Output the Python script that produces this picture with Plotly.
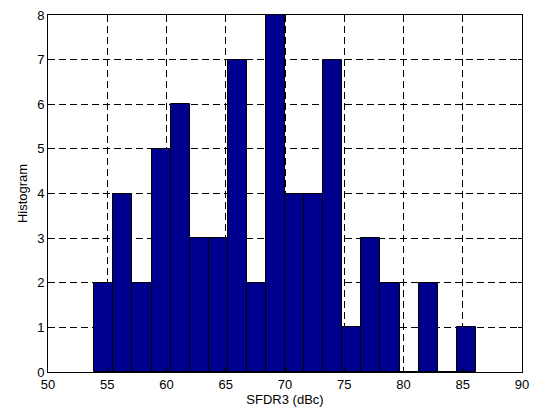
import plotly.graph_objects as go

# Histogram bins (centres, dBc) and counts
bin_centers = [54.71, 56.32, 57.93, 59.54, 61.15, 62.76, 64.37, 65.98, 67.59, 69.20,
               70.81, 72.42, 74.03, 75.64, 77.25, 78.86, 80.47, 82.08, 83.69, 85.30]
counts = [2, 4, 2, 5, 6, 3, 3, 7, 2, 8,
          4, 4, 7, 1, 3, 2, 0, 2, 0, 1]
bin_width = 1.61

x_ticks = [50, 55, 60, 65, 70, 75, 80, 85, 90]
y_ticks = [0, 1, 2, 3, 4, 5, 6, 7, 8]

fig = go.Figure()
fig.add_trace(go.Bar(
    x=bin_centers, y=counts, width=bin_width,
    marker=dict(color="#00008F", line=dict(color="black", width=1)),
    showlegend=False,
))

font = dict(family="Liberation Sans, Arial, sans-serif", size=13, color="black")
axis_common = dict(
    showline=True, linecolor="black", linewidth=1, mirror="ticks",
    ticks="inside", ticklen=4, tickcolor="black",
    showgrid=True, gridcolor="black", gridwidth=1, griddash="7px,4px",
    zeroline=False, tickfont=font, automargin=False,
)

fig.update_layout(
    width=534, height=407,
    margin=dict(l=48, r=12, t=15, b=35),
    paper_bgcolor="white", plot_bgcolor="white",
    bargap=0,
    font=font,
    xaxis=dict(range=[50, 90], tickvals=x_ticks, ticktext=[str(v) for v in x_ticks],
               title=dict(text="SFDR3 (dBc)", font=font, standoff=1), **axis_common),
    yaxis=dict(range=[0, 8], tickvals=y_ticks, ticktext=[str(v) for v in y_ticks],
               title=dict(text="Histogram", font=font, standoff=6), **axis_common),
)

fig.write_html("out.html")
